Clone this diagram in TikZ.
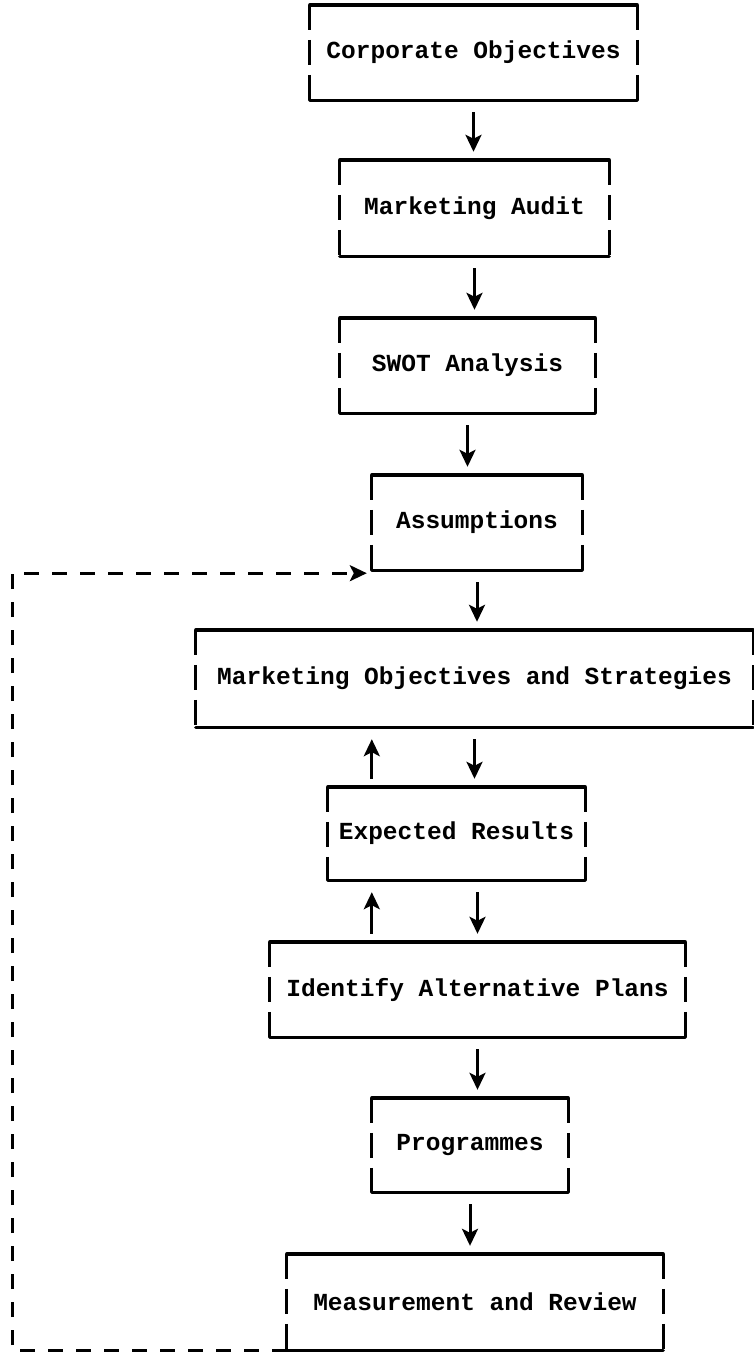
\documentclass[tikz,border=0pt]{standalone}
\usepackage{fontspec}
\setmonofont{Liberation Mono}
\usetikzlibrary{arrows.meta,calc}
\tikzset{
  tbox/.style={rectangle, inner sep=0pt, font=\ttfamily\bfseries\fontsize{24.5}{28}\selectfont},
  hline/.style={line width=3.4pt, line cap=round},
  vline/.style={line width=3pt, dash pattern=on 25pt off 10pt},
  arr/.style={line width=3pt, -{Stealth[length=17pt,width=16pt,inset=4pt]}},
  fb/.style={line width=3pt, dash pattern=on 15pt off 13pt, -{Stealth[length=17pt,width=16pt,inset=4pt]}}
}
\begin{document}
\begin{tikzpicture}[x=1pt,y=-1pt]
\useasboundingbox[fill=white] (0,0) rectangle (753,1357);
\node[tbox, minimum width=327pt, minimum height=95pt] (co) at (473.5,52.5) {Corporate Objectives};
\node[tbox, minimum width=269pt, minimum height=96pt] (ma) at (474.5,208) {Marketing Audit};
\node[tbox, minimum width=255pt, minimum height=95pt] (sw) at (467.5,365.5) {SWOT Analysis};
\node[tbox, minimum width=210pt, minimum height=95pt] (as) at (477,522.5) {Assumptions};
\node[tbox, minimum width=557pt, minimum height=97pt] (mo) at (474.5,678.5) {Marketing Objectives and Strategies};
\node[tbox, minimum width=257pt, minimum height=93pt] (er) at (456.5,833.5) {Expected Results};
\node[tbox, minimum width=415pt, minimum height=95pt] (ia) at (477.5,989.5) {Identify Alternative Plans};
\node[tbox, minimum width=196pt, minimum height=94pt] (pr) at (470,1145) {Programmes};
\node[tbox, minimum width=376pt, minimum height=96pt] (mr) at (475,1302) {Measurement and Review};
\foreach \n in {co,ma,sw,as,mo,er,ia,pr,mr}{
  \draw[hline] (\n.north west) -- (\n.north east);
  \draw[hline] (\n.south west) -- (\n.south east);
  \draw[vline] (\n.north west) -- (\n.south west);
  \draw[vline] (\n.north east) -- (\n.south east);
}
% down arrows
\draw[arr, shorten <=12pt, shorten >=8pt] (co.south) -- (co.south |- ma.north);
\draw[arr, shorten <=12pt, shorten >=8pt] (ma.south) -- (ma.south |- sw.north);
\draw[arr, shorten <=12pt, shorten >=8pt] (sw.south) -- (sw.south |- as.north);
\draw[arr, shorten <=12pt, shorten >=8pt] (as.south) -- (as.south |- mo.north);
\draw[arr, shorten <=12pt, shorten >=8pt] (mo.south) -- (mo.south |- er.north);
\draw[arr, shorten <=12pt, shorten >=8pt] (ia.north |- er.south) -- (ia.north);
\draw[arr, shorten <=12pt, shorten >=8pt] (ia.south) -- (ia.south |- pr.north);
\draw[arr, shorten <=12pt, shorten >=8pt] (pr.south) -- (pr.south |- mr.north);
% up arrows
\draw[arr, shorten <=8pt, shorten >=12pt] ([xshift=44pt]er.north west) -- ([xshift=44pt]er.north west |- mo.south);
\draw[arr, shorten <=8pt, shorten >=12pt] ([xshift=102pt]ia.north west) -- ([xshift=102pt]ia.north west |- er.south);
% feedback loop
\coordinate (fbx) at (12,0);
\draw[fb] (mr.south west) -- (mr.south west -| fbx) |- ([xshift=-5pt,yshift=-3pt]as.south west);
\end{tikzpicture}
\end{document}
